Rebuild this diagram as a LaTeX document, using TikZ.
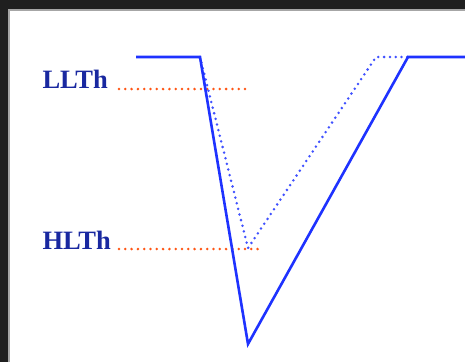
\documentclass[tikz,border=0pt]{standalone}
\usepackage{fontspec}
\setmainfont{Liberation Serif}
\definecolor{sigblue}{RGB}{30,50,255}
\definecolor{labblue}{RGB}{25,40,160}
\definecolor{thorange}{RGB}{255,85,20}
\tikzset{
  signal/.style={sigblue, line width=2.6pt, line join=miter},
  dotsig/.style={sigblue!85, line width=2.8pt, line cap=round, dash pattern=on 0pt off 5.8pt},
  thline/.style={thorange, line width=2.8pt, line cap=round, dash pattern=on 0pt off 6.3pt},
  thlabel/.style={font=\fontsize{26.5}{26.5}\selectfont\bfseries, labblue, anchor=west}
}
\begin{document}
\begin{tikzpicture}[x=1pt, y=-1pt]
  \useasboundingbox (0, 0) rectangle (465, 362);
  \fill[black!88] (0, 0) rectangle (465, 362);
  \fill[white] (9, 10) rectangle (465, 362);
  \draw[black!35, line width=1.2pt] (9, 362) -- (9, 10) -- (465, 10);

  % threshold labels and levels
  \node[thlabel] (llth) at (39, 79) {LLTh};
  \node[thlabel] (hlth) at (39, 240) {HLTh};
  \draw[thline] (119, 89) -- (245, 89);
  \draw[thline] (119, 249) -- (262, 249);

  % dip, shallow case
  \draw[dotsig] (200, 57) -- (248, 248) -- (376, 57) -- (408, 57);

  % dip, deep case
  \draw[signal] (136, 57) -- (200, 57) -- (248, 344) -- (408, 57) -- (466, 57);
\end{tikzpicture}
\end{document}
